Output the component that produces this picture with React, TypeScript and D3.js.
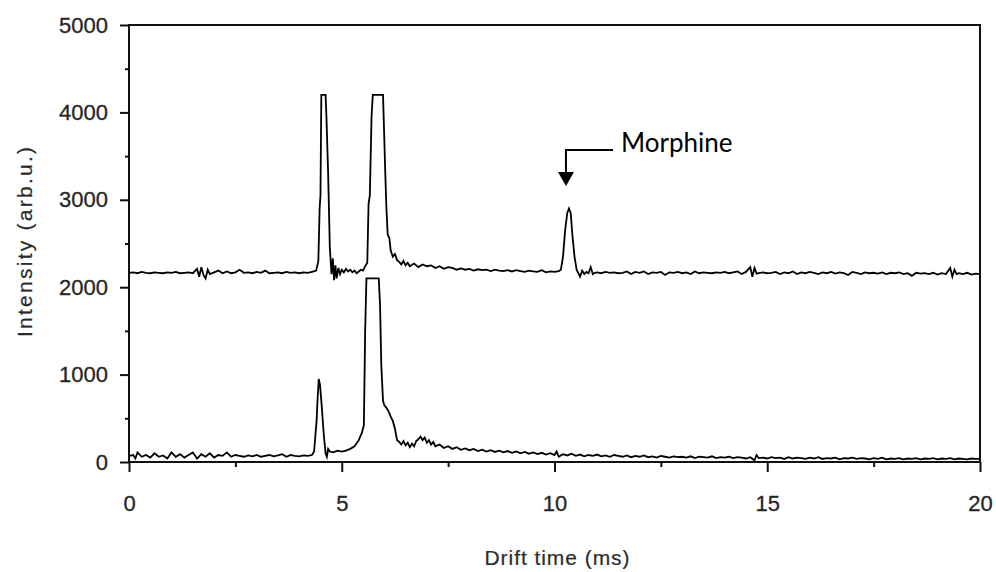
import React, { useRef, useEffect } from 'react';
import * as d3 from 'd3';

// drift time (ms), intensity (arb.u.)
const upperTrace: [number, number][] = [
  [0.0, 2165], [0.1, 2170], [0.2, 2160], [0.3, 2175], [0.4, 2165], [0.5, 2160], [0.6, 2170], [0.7, 2165],
  [0.8, 2160], [0.9, 2170], [1.0, 2165], [1.1, 2175], [1.2, 2160], [1.3, 2165], [1.4, 2170], [1.5, 2160],
  [1.6, 2210], [1.65, 2120], [1.7, 2230], [1.75, 2140], [1.8, 2100], [1.85, 2200], [1.9, 2150], [2.0, 2170],
  [2.1, 2190], [2.2, 2160], [2.3, 2180], [2.4, 2160], [2.5, 2170], [2.6, 2200], [2.7, 2165], [2.8, 2170],
  [2.9, 2160], [3.0, 2175], [3.1, 2165], [3.2, 2190], [3.3, 2160], [3.4, 2165], [3.5, 2170], [3.6, 2160],
  [3.7, 2175], [3.8, 2165], [3.9, 2170], [4.0, 2160], [4.1, 2170], [4.2, 2165], [4.3, 2175], [4.4, 2190],
  [4.45, 2300], [4.48, 2900], [4.5, 3050], [4.52, 4200], [4.62, 4200], [4.64, 3950], [4.68, 3300], [4.72, 2450],
  [4.76, 2150], [4.79, 2330], [4.82, 2080], [4.85, 2250], [4.88, 2100], [4.92, 2220], [4.96, 2150], [5.0, 2200],
  [5.05, 2170], [5.1, 2210], [5.15, 2180], [5.2, 2200], [5.25, 2170], [5.3, 2190], [5.35, 2160], [5.4, 2180],
  [5.45, 2200], [5.5, 2190], [5.55, 2240], [5.6, 2280], [5.63, 2950], [5.66, 3050], [5.7, 3950], [5.73, 4200],
  [5.97, 4200], [6.0, 3700], [6.02, 3350], [6.05, 2900], [6.08, 2600], [6.12, 2560], [6.15, 2420], [6.2, 2350],
  [6.25, 2380], [6.3, 2310], [6.35, 2290], [6.4, 2260], [6.45, 2300], [6.5, 2250], [6.55, 2280], [6.6, 2240],
  [6.7, 2270], [6.8, 2230], [6.9, 2260], [7.0, 2240], [7.1, 2250], [7.2, 2220], [7.3, 2240], [7.4, 2210],
  [7.5, 2230], [7.6, 2220], [7.7, 2200], [7.8, 2215], [7.9, 2200], [8.0, 2210], [8.1, 2190], [8.2, 2205],
  [8.3, 2195], [8.4, 2200], [8.5, 2185], [8.6, 2200], [8.7, 2190], [8.8, 2185], [8.9, 2195], [9.0, 2180],
  [9.1, 2195], [9.2, 2185], [9.3, 2175], [9.4, 2190], [9.5, 2180], [9.6, 2175], [9.7, 2195], [9.8, 2170],
  [9.9, 2180], [10.0, 2175], [10.1, 2185], [10.15, 2200], [10.2, 2350], [10.25, 2650], [10.3, 2850], [10.34, 2900],
  [10.38, 2850], [10.42, 2600], [10.47, 2350], [10.52, 2200], [10.56, 2160], [10.6, 2120], [10.65, 2190], [10.7, 2150],
  [10.75, 2175], [10.8, 2160], [10.85, 2230], [10.9, 2150], [10.95, 2165], [11.0, 2170], [11.1, 2160], [11.2, 2175],
  [11.3, 2165], [11.4, 2170], [11.5, 2160], [11.6, 2165], [11.7, 2180], [11.8, 2150], [11.9, 2175], [12.0, 2165],
  [12.1, 2180], [12.2, 2150], [12.3, 2170], [12.4, 2165], [12.5, 2175], [12.6, 2140], [12.7, 2170], [12.8, 2165],
  [12.9, 2175], [13.0, 2160], [13.1, 2170], [13.2, 2150], [13.3, 2180], [13.4, 2160], [13.5, 2170], [13.6, 2165],
  [13.7, 2160], [13.8, 2170], [13.9, 2165], [14.0, 2175], [14.1, 2160], [14.2, 2170], [14.3, 2180], [14.4, 2150],
  [14.5, 2175], [14.6, 2230], [14.65, 2120], [14.7, 2220], [14.75, 2155], [14.8, 2160], [14.9, 2170], [15.0, 2160],
  [15.1, 2165], [15.2, 2175], [15.3, 2150], [15.4, 2170], [15.5, 2160], [15.6, 2180], [15.7, 2150], [15.8, 2170],
  [15.9, 2160], [16.0, 2175], [16.1, 2165], [16.2, 2150], [16.3, 2170], [16.4, 2160], [16.5, 2175], [16.6, 2155],
  [16.7, 2170], [16.8, 2160], [16.9, 2140], [17.0, 2175], [17.1, 2165], [17.2, 2150], [17.3, 2170], [17.4, 2160],
  [17.5, 2165], [17.6, 2155], [17.7, 2170], [17.8, 2150], [17.9, 2165], [18.0, 2160], [18.1, 2170], [18.2, 2150],
  [18.3, 2160], [18.4, 2130], [18.5, 2165], [18.6, 2155], [18.7, 2160], [18.8, 2150], [18.9, 2165], [19.0, 2145],
  [19.1, 2160], [19.2, 2150], [19.3, 2220], [19.35, 2120], [19.4, 2200], [19.45, 2150], [19.5, 2160], [19.6, 2150],
  [19.7, 2165], [19.8, 2145], [19.9, 2155], [20.0, 2150],
];

const lowerTrace: [number, number][] = [
  [0.0, 70], [0.1, 80], [0.15, 40], [0.2, 110], [0.3, 60], [0.4, 80], [0.5, 50], [0.6, 100], [0.7, 60], [0.8, 75],
  [0.9, 40], [1.0, 110], [1.1, 60], [1.2, 90], [1.3, 50], [1.4, 80], [1.5, 110], [1.6, 40], [1.7, 90], [1.8, 60],
  [1.9, 100], [2.0, 50], [2.1, 80], [2.2, 70], [2.3, 110], [2.4, 60], [2.5, 80], [2.6, 70], [2.7, 60], [2.8, 75],
  [2.9, 65], [3.0, 80], [3.1, 60], [3.2, 70], [3.3, 80], [3.4, 65], [3.5, 75], [3.6, 90], [3.7, 60], [3.8, 80],
  [3.9, 70], [4.0, 65], [4.1, 75], [4.2, 70], [4.3, 80], [4.35, 120], [4.38, 300], [4.41, 480], [4.43, 700],
  [4.46, 950], [4.49, 880], [4.52, 700], [4.55, 500], [4.58, 300], [4.62, 100], [4.65, 60], [4.68, 150], [4.72, 120],
  [4.8, 110], [4.9, 130], [5.0, 120], [5.1, 130], [5.2, 150], [5.3, 180], [5.4, 250], [5.47, 330], [5.52, 420],
  [5.55, 1500], [5.58, 2100], [5.87, 2100], [5.9, 1800], [5.93, 1100], [5.97, 700], [6.0, 650], [6.05, 620],
  [6.1, 580], [6.15, 520], [6.2, 470], [6.25, 380], [6.3, 250], [6.35, 230], [6.4, 200], [6.45, 240], [6.5, 190],
  [6.55, 220], [6.6, 170], [6.65, 210], [6.7, 180], [6.75, 240], [6.8, 260], [6.85, 290], [6.9, 250], [6.95, 280],
  [7.0, 220], [7.05, 250], [7.1, 200], [7.15, 230], [7.2, 180], [7.3, 200], [7.4, 160], [7.5, 180], [7.6, 150],
  [7.7, 170], [7.8, 140], [7.9, 155], [8.0, 135], [8.1, 150], [8.2, 125], [8.3, 140], [8.4, 120], [8.5, 135],
  [8.6, 115], [8.7, 130], [8.8, 110], [8.9, 125], [9.0, 105], [9.1, 120], [9.2, 100], [9.3, 115], [9.4, 95],
  [9.5, 110], [9.6, 90], [9.7, 105], [9.8, 85], [9.9, 100], [10.0, 80], [10.05, 120], [10.1, 60], [10.2, 90],
  [10.3, 75], [10.4, 95], [10.5, 70], [10.6, 85], [10.7, 65], [10.8, 80], [10.9, 70], [11.0, 85], [11.1, 65],
  [11.2, 75], [11.3, 60], [11.4, 80], [11.5, 70], [11.6, 60], [11.7, 75], [11.8, 55], [11.9, 70], [12.0, 60],
  [12.1, 75], [12.2, 55], [12.3, 65], [12.4, 50], [12.5, 70], [12.6, 60], [12.7, 50], [12.8, 65], [12.9, 55],
  [13.0, 60], [13.1, 50], [13.2, 65], [13.3, 45], [13.4, 60], [13.5, 55], [13.6, 50], [13.7, 65], [13.8, 45],
  [13.9, 55], [14.0, 50], [14.1, 60], [14.2, 45], [14.3, 55], [14.4, 50], [14.5, 40], [14.6, 55], [14.7, 20],
  [14.75, 80], [14.8, 45], [14.9, 50], [15.0, 40], [15.1, 55], [15.2, 45], [15.3, 50], [15.4, 35], [15.5, 55],
  [15.6, 40], [15.7, 50], [15.8, 45], [15.9, 35], [16.0, 50], [16.1, 40], [16.2, 55], [16.3, 35], [16.4, 45],
  [16.5, 40], [16.6, 50], [16.7, 30], [16.8, 45], [16.9, 40], [17.0, 50], [17.1, 35], [17.2, 45], [17.3, 40],
  [17.4, 30], [17.5, 45], [17.6, 35], [17.7, 50], [17.8, 30], [17.9, 40], [18.0, 35], [18.1, 45], [18.2, 30],
  [18.3, 40], [18.4, 35], [18.5, 45], [18.6, 30], [18.7, 40], [18.8, 35], [18.9, 45], [19.0, 30], [19.1, 40],
  [19.2, 35], [19.3, 45], [19.4, 30], [19.5, 40], [19.6, 35], [19.7, 30], [19.8, 40], [19.9, 35], [20.0, 35],
];

const xMajor = [0, 5, 10, 15, 20];
const xMinor = [2.5, 7.5, 12.5, 17.5];
const yMajor = [0, 1000, 2000, 3000, 4000, 5000];
const yMinor = [500, 1500, 2500, 3500, 4500];
const morphinePeak: [number, number] = [10.34, 2900];

const W = 996;
const H = 572;

export default function App() {
  const svgRef = useRef<SVGSVGElement>(null);

  useEffect(() => {
    document.body.style.margin = '0';
    const svg = d3.select(svgRef.current);
    svg.selectAll('*').remove();

    const x = d3.scaleLinear().domain([0, 20]).range([129, 980]);
    const y = d3.scaleLinear().domain([0, 5000]).range([462, 25]);
    const font = '"Liberation Sans", Arial, sans-serif';

    // y axis
    const gy = svg.append('g').attr('transform', `translate(${x(0)},0)`)
      .call(d3.axisLeft(y).tickValues(yMajor).tickSize(9).tickPadding(12).tickFormat(d3.format('d')));
    svg.append('g').attr('transform', `translate(${x(0)},0)`)
      .call(d3.axisLeft(y).tickValues(yMinor).tickSize(4).tickFormat(() => ''));

    // x axis
    const gx = svg.append('g').attr('transform', `translate(0,${y(0)})`)
      .call(d3.axisBottom(x).tickValues(xMajor).tickSize(10).tickPadding(23).tickFormat(d3.format('d')));
    svg.append('g').attr('transform', `translate(0,${y(0)})`)
      .call(d3.axisBottom(x).tickValues(xMinor).tickSize(5).tickFormat(() => ''));

    svg.selectAll('.domain').remove();
    svg.selectAll('.tick line').attr('stroke', '#111').attr('stroke-width', 2);
    [gx, gy].forEach(g => g.selectAll('.tick text')
      .attr('font-family', font).attr('font-size', 22).attr('fill', '#262626')
      .attr('stroke', '#262626').attr('stroke-width', 0.3));

    // frame
    svg.append('rect')
      .attr('x', x(0)).attr('y', y(5000))
      .attr('width', x(20) - x(0)).attr('height', y(0) - y(5000))
      .attr('fill', 'none').attr('stroke', '#111').attr('stroke-width', 2);

    const line = d3.line<[number, number]>().x(d => x(d[0])).y(d => y(d[1]));
    [lowerTrace, upperTrace].forEach(tr => {
      svg.append('path').datum(tr)
        .attr('d', line)
        .attr('fill', 'none').attr('stroke', '#000').attr('stroke-width', 1.8)
        .attr('stroke-linejoin', 'miter');
    });

    // annotation
    const ax = x(morphinePeak[0]) - 3;
    const aTop = 150;
    svg.append('path')
      .attr('d', `M${ax + 47},${aTop}H${ax}V${aTop + 23}`)
      .attr('fill', 'none').attr('stroke', '#000').attr('stroke-width', 2);
    svg.append('path')
      .attr('d', `M${ax - 8},${aTop + 22}L${ax + 8},${aTop + 22}L${ax},${aTop + 36}Z`)
      .attr('fill', '#000');
    svg.append('text')
      .attr('x', ax + 55).attr('y', 152)
      .attr('font-family', 'Lato, "Open Sans", sans-serif').attr('font-size', 26)
      .attr('fill', '#000')
      .text('Morphine');

    // axis titles
    svg.append('text')
      .attr('x', 557).attr('y', 565)
      .attr('text-anchor', 'middle')
      .attr('font-family', font).attr('font-size', 21).attr('fill', '#2b2b2b')
      .attr('stroke', '#2b2b2b').attr('stroke-width', 0.2)
      .attr('textLength', 145).attr('lengthAdjust', 'spacing')
      .text('Drift time (ms)');
    svg.append('text')
      .attr('transform', 'translate(32,242) rotate(-90)')
      .attr('text-anchor', 'middle')
      .attr('font-family', font).attr('font-size', 21).attr('fill', '#2b2b2b')
      .attr('stroke', '#2b2b2b').attr('stroke-width', 0.2)
      .attr('textLength', 190).attr('lengthAdjust', 'spacing')
      .text('Intensity (arb.u.)');
  }, []);

  return <svg ref={svgRef} width={W} height={H} style={{ display: 'block', background: '#fff' }} />;
}
